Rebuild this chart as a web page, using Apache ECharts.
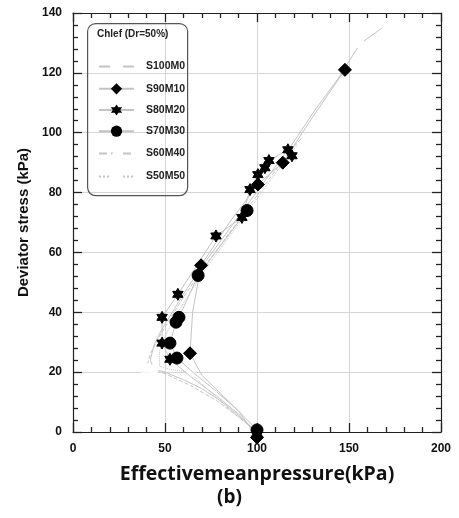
<!DOCTYPE html>
<html>
<head>
<meta charset="utf-8">
<script src="https://cdn.jsdelivr.net/npm/echarts@6/dist/echarts.min.js"></script>
<style>
  html, body { margin: 0; padding: 0; background: #fff; }
  #chart { width: 459px; height: 518px; }
</style>
</head>
<body>
<div id="chart"></div>
<script>
// Stress paths, Chlef sand (Dr = 50%) with increasing fines content.
// Each point: [p' (kPa), q (kPa), marker shown (1) or path-only (0)]
const seriesNames = ['S100M0', 'S90M10', 'S80M20', 'S70M30', 'S60M40', 'S50M50'];

const s100m0 = [[100,0,1],[90,5.5,0],[80,10.5,0],[70,14.5,0],[60,17.5,0],[50,20,0],[44,21,1],[42,24,0],[44,29,0],[48,34,0],[54,40,0],[62,48,0],[72,57,0],[84,67,0],[96,77,0],[108,87,0],[120,97,0],[132,108,0],[144,118,0],[156,129.7,1],[168,135,0]];
const s90m10 = [[100,-1.8,1],[90,7,0],[80,13,0],[70,19,0],[63.6,26.3,1],[65,40,0],[69.6,55.7,1],[85,70,0],[100.5,82.7,1],[114,90,1],[130,105,0],[147.8,121,1]];
const s80m20 = [[100,-0.4,1],[90,6,0],[78,12,0],[64,18.5,0],[52.7,24.3,1],[48.4,29.7,1],[48.4,38.3,1],[57,46,1],[77.7,65.5,1],[91.8,71.7,1],[96.2,81,1],[100.5,86,1],[104.3,88.3,1],[106.5,90.7,1],[116.8,94.3,1],[119,92.3,1]];
const s70m30 = [[100,0.7,1],[90,7,0],[78,13.5,0],[66,19.5,0],[56.5,24.7,1],[52.7,29.7,1],[56,36.7,1],[57.6,38.3,1],[68,52.3,1],[94.6,74,1]];
const s60m40 = [[100,0,0],[90,5,0],[78,10.5,0],[64,15.5,0],[50,19.5,0],[40,21.5,1],[42,26,0],[46,31,0],[52,37,0],[60,45,0],[70,54,0],[82,64,0],[94,74,0],[106,84,0],[118,94,0],[124,98,0]];
const s50m50 = [[100,0,0],[88,6,0],[76,12.5,0],[63.6,20,1],[52,21,0],[47,22,0],[47,27,0],[50,32,0],[56,39,0],[64,47,0],[75,57,0],[87,67,0],[100,78,0],[112,88,0],[122,96,0]];

const xTicks = { min: 0, max: 200, step: 50 };
const yTicks = { min: 0, max: 140, step: 20 };

const STAR = 'path://M0,-100L29,-50L87,-50L58,0L87,50L29,50L0,100L-29,50L-87,50L-58,0L-87,-50L-29,-50Z';
const LABEL_FONT = '"Liberation Sans", Arial, sans-serif';
const TITLE_FONT = '"Open Sans", "DejaVu Sans", sans-serif';
const AXIS_COLOR = '#222';

function toData(arr) {
  return arr.map(d => d[2] ? { value: [d[0], d[1]] } : { value: [d[0], d[1]], symbol: 'none' });
}

function pathSeries(name, arr, symbol, size, markerColor, filled, lineType) {
  return {
    name: name,
    type: 'line',
    data: toData(arr),
    clip: false,
    symbol: symbol,
    symbolSize: size,
    symbolKeepAspect: true,
    showAllSymbol: true,
    lineStyle: { color: '#c4c4c4', width: 1, type: lineType || 'solid' },
    itemStyle: filled
      ? { color: markerColor, borderColor: markerColor }
      : { color: '#ffffff', borderColor: markerColor, borderWidth: 1 },
    z: filled ? 3 : 2
  };
}

const series = [
  pathSeries(seriesNames[0], s100m0, 'emptyCircle', 8, '#c4c4c4', false),
  pathSeries(seriesNames[1], s90m10, 'diamond', 13, '#000000', true),
  pathSeries(seriesNames[2], s80m20, STAR, 12, '#000000', true),
  pathSeries(seriesNames[3], s70m30, 'circle', 12, '#000000', true),
  pathSeries(seriesNames[4], s60m40, 'emptyTriangle', 8, '#cacaca', false, 'dashed'),
  pathSeries(seriesNames[5], s50m50, 'emptyRect', 7, '#cacaca', false, 'dotted')
];

// Frame axis with inward major and minor ticks (fresh objects per axis).
function axis(position, ticks, extra) {
  const base = {
    type: 'value',
    position: position,
    min: ticks.min, max: ticks.max, interval: ticks.step,
    axisLine: { show: true, onZero: false, lineStyle: { color: AXIS_COLOR, width: 1.2 } },
    axisTick: { show: true, inside: true, length: 9, lineStyle: { color: AXIS_COLOR, width: 1.3 } },
    minorTick: { show: true, splitNumber: 5, length: 5, lineStyle: { color: AXIS_COLOR, width: 1.3 } },
    axisLabel: { show: false },
    splitLine: { show: false }
  };
  return Object.assign(base, extra || {});
}

const chart = echarts.init(document.getElementById('chart'), null, { renderer: 'canvas' });

chart.setOption({
  backgroundColor: '#ffffff',
  animation: false,
  grid: { left: 73, right: 18, top: 13, bottom: 86 },
  xAxis: [
    axis('bottom', xTicks, {
      name: 'Effectivemeanpressure(kPa)',
      nameLocation: 'middle',
      nameGap: 32,
      nameTextStyle: { fontFamily: TITLE_FONT, fontWeight: 'bold', fontSize: 19.5, color: '#111' },
      axisLabel: { show: true, fontFamily: LABEL_FONT, fontWeight: 'bold', fontSize: 12, color: '#111', margin: 11 },
      splitLine: { show: true, lineStyle: { color: '#d6d6d6', width: 1 } }
    }),
    axis('top', xTicks)
  ],
  yAxis: [
    axis('left', yTicks, {
      name: 'Deviator stress (kPa)',
      nameLocation: 'middle',
      nameGap: 42,
      nameTextStyle: { fontFamily: LABEL_FONT, fontWeight: 'bold', fontSize: 15, color: '#111' },
      axisLabel: { show: true, fontFamily: LABEL_FONT, fontWeight: 'bold', fontSize: 12, color: '#111', margin: 11 },
      splitLine: { show: true, lineStyle: { color: '#d6d6d6', width: 1 } }
    }),
    axis('right', yTicks)
  ],
  legend: {
    data: seriesNames,
    orient: 'vertical',
    left: 93,
    top: 55,
    itemWidth: 35,
    itemHeight: 14,
    itemGap: 10,
    textStyle: { fontFamily: LABEL_FONT, fontWeight: 'bold', fontSize: 10.5, color: '#222', padding: [0, 0, 0, 7] }
  },
  graphic: [
    {
      type: 'rect',
      left: 87, top: 23,
      shape: { width: 100, height: 172, r: 8 },
      style: { fill: 'rgba(255,255,255,0)', stroke: '#555', lineWidth: 1.2 },
      z: 10
    },
    {
      type: 'text',
      left: 97, top: 29,
      style: { text: 'Chlef (Dr=50%)', font: 'bold 10px "Liberation Sans", Arial, sans-serif', fill: '#222' },
      z: 10
    },
    {
      type: 'text',
      left: 'center', top: 488,
      style: { text: '(b)', font: 'bold 19px "Open Sans", "DejaVu Sans", sans-serif', fill: '#111' },
      z: 10
    }
  ],
  series: series
});
</script>
</body>
</html>
